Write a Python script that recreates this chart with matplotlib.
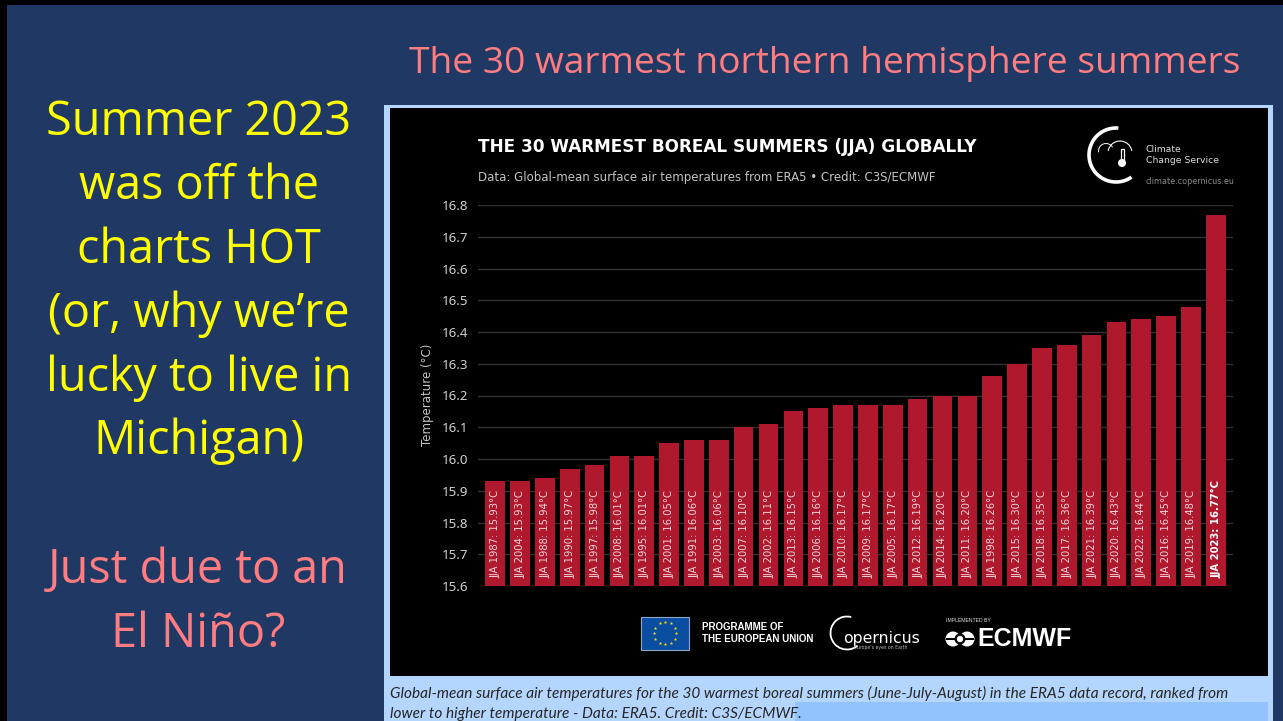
import matplotlib
matplotlib.use("Agg")
import matplotlib.pyplot as plt
import numpy as np
from matplotlib.patches import Rectangle, Arc, Circle

W, H = 1283, 721

years = [1987, 2004, 1988, 1990, 1997, 2008, 1995, 2001, 1991, 2003, 2007, 2002, 2013, 2006, 2010,
         2009, 2005, 2012, 2014, 2011, 1998, 2015, 2018, 2017, 2021, 2020, 2022, 2016, 2019, 2023]
temps = [15.93, 15.93, 15.94, 15.97, 15.98, 16.01, 16.01, 16.05, 16.06, 16.06, 16.10, 16.11, 16.15, 16.16, 16.17,
         16.17, 16.17, 16.19, 16.20, 16.20, 16.26, 16.30, 16.35, 16.36, 16.39, 16.43, 16.44, 16.45, 16.48, 16.77]
yticks = [15.6, 15.7, 15.8, 15.9, 16.0, 16.1, 16.2, 16.3, 16.4, 16.5, 16.6, 16.7, 16.8]

NAVY = "#1f3864"; LIGHT = "#b4d6fe"; MID = "#93c3fc"; RED = "#b0182e"
PINK = "#ff7c80"; YEL = "#ffff00"
SLIDE = "Open Sans"; CHART = "DejaVu Sans"

fig = plt.figure(figsize=(W/100, H/100), dpi=100, facecolor=NAVY)
bg = fig.add_axes([0, 0, 1, 1]); bg.set_xlim(0, W); bg.set_ylim(H, 0); bg.axis("off")

# slide frame
bg.add_patch(Rectangle((0, 0), W, 5, color="black", lw=0))
bg.add_patch(Rectangle((0, 0), 7, H, color="black", lw=0))
# picture frame
bg.add_patch(Rectangle((384, 105), 889, H-105, color=LIGHT, lw=0))
bg.add_patch(Rectangle((390, 108), 878, 568, color="black", lw=0))
bg.add_patch(Rectangle((795, 702), 473, 19, color=MID, lw=0))

bg.text(824.5, 64.5, "The 30 warmest northern hemisphere summers", color=PINK, fontsize=26.7, family=SLIDE, ha="center", va="center")
for y, s in zip([122, 186, 250, 314, 378, 441], ["Summer 2023", "was off the", "charts HOT", "(or, why we\u2019re", "lucky to live in", "Michigan)"]):
    bg.text(199, y, s, color=YEL, fontsize=33.7, family=SLIDE, ha="center", va="center")
for y, s in zip([570, 634], ["Just due to an", "El Ni\u00f1o?"]):
    bg.text(198, y, s, color=PINK, fontsize=33.7, family=SLIDE, ha="center", va="center")

bg.text(478, 146.5, "THE 30 WARMEST BOREAL SUMMERS (JJA) GLOBALLY", color="white", fontsize=12.2, fontweight="bold", family=CHART, va="center")
bg.text(478, 177, "Data: Global-mean surface air temperatures from ERA5 \u2022 Credit: C3S/ECMWF", color="#c4c4c4", fontsize=8.5, family=CHART, va="center")
bg.text(427, 395, "Temperature (\u00b0C)", color="#c4c4c4", fontsize=8.5, family=CHART, rotation=90, va="center", ha="center")

# C3S logo
bg.add_patch(Arc((1116, 155), 54, 54, theta1=55, theta2=275, color="white", lw=2.6))
bg.add_patch(Arc((1106, 151), 15, 15, theta1=170, theta2=330, color="white", lw=0.7))
bg.add_patch(Arc((1120, 153), 24, 24, theta1=190, theta2=350, color="white", lw=0.8))
bg.add_patch(Rectangle((1120.5, 149), 3.5, 12, fc="none", ec="white", lw=0.9))
bg.add_patch(Circle((1122, 163), 4, fc="white", ec="white", lw=0))
bg.text(1146, 149.5, "Climate", color="#dddddd", fontsize=6.7, family=CHART, va="center")
bg.text(1146, 160.5, "Change Service", color="#dddddd", fontsize=6.7, family=CHART, va="center")
bg.text(1146, 181, "climate.copernicus.eu", color="#8a8a8a", fontsize=5.8, family=CHART, va="center")

# EU flag
bg.add_patch(Rectangle((641, 616.5), 48, 33, fc="#0a4ea2", ec="#8fa6c4", lw=0.8))
a = np.linspace(0, 2*np.pi, 12, endpoint=False)
bg.scatter(665+11*np.cos(a), 633+11*np.sin(a), s=7, c="#ffe000", marker="*", lw=0, zorder=3)
bg.text(702, 627.5, "PROGRAMME OF", color="white", fontsize=7, fontweight="bold", family="Liberation Sans", va="center")
bg.text(702, 638.5, "THE EUROPEAN UNION", color="white", fontsize=7, fontweight="bold", family="Liberation Sans", va="center")

# Copernicus logo
bg.add_patch(Arc((847, 633), 33, 33, theta1=50, theta2=285, color="white", lw=1.3))
bg.text(843, 638, "opernicus", color="white", fontsize=11.3, family="DejaVu Sans", va="center")
bg.text(881, 647.5, "Europe's eyes on Earth", color="#bbbbbb", fontsize=3.3, family="DejaVu Sans", va="center", ha="center")

# ECMWF logo
bg.text(946, 620.5, "IMPLEMENTED BY", color="#dddddd", fontsize=3.7, family="Liberation Sans", va="center")
bg.add_patch(Circle((953, 639), 7.5, fc="white", lw=0))
bg.add_patch(Circle((967, 639), 7.5, fc="white", lw=0))
bg.add_patch(Circle((960, 639), 5.5, fc="black", lw=0))
bg.add_patch(Rectangle((946, 637.8), 28, 2.4, fc="black", lw=0))
bg.add_patch(Circle((960, 639), 3.2, fc="white", lw=0))
bg.text(977, 638.5, "ECMWF", color="white", fontsize=18.0, fontweight="bold", family="Liberation Sans", va="center")

bg.text(390, 693, "Global-mean surface air temperatures for the 30 warmest boreal summers (June-July-August) in the ERA5 data record, ranked from",
        color="#262626", fontsize=11.12, style="italic", family="Lato", va="center")
bg.text(390, 714, "lower to higher temperature - Data: ERA5. Credit: C3S/ECMWF.",
        color="#262626", fontsize=11.12, style="italic", family="Lato", va="center", zorder=5)

# chart
L, R, T, B = 478, 1233, 205, 586
ax = fig.add_axes([L/W, 1-B/H, (R-L)/W, (B-T)/H], facecolor="none")
x = np.arange(len(temps))
ax.bar(x, temps, width=0.79, bottom=0, color=RED, zorder=3)
ax.set_xlim(-0.69, 29.69); ax.set_ylim(15.6, 16.8)
ax.set_yticks(yticks); ax.set_yticklabels([f"{v:.1f}" for v in yticks], color="#d0d0d0", fontsize=9.6, family="Noto Sans")
ax.set_xticks([])
ax.tick_params(axis="y", length=0, pad=7)
ax.grid(axis="y", color="#333333", lw=1, zorder=0)
for s in ax.spines.values():
    s.set_visible(False)
for i, (yr, t) in enumerate(zip(years, temps)):
    last = i == len(temps)-1
    ax.text(i+0.02, 15.625, f"JJA {yr}: {t:.2f}\u00b0C", rotation=90, ha="center", va="bottom", color="white" if last else "#f2d6da",
            fontsize=7.2, family=CHART, fontweight="bold" if last else "normal", zorder=4)

fig.savefig("out.png", dpi=100, facecolor=NAVY)
